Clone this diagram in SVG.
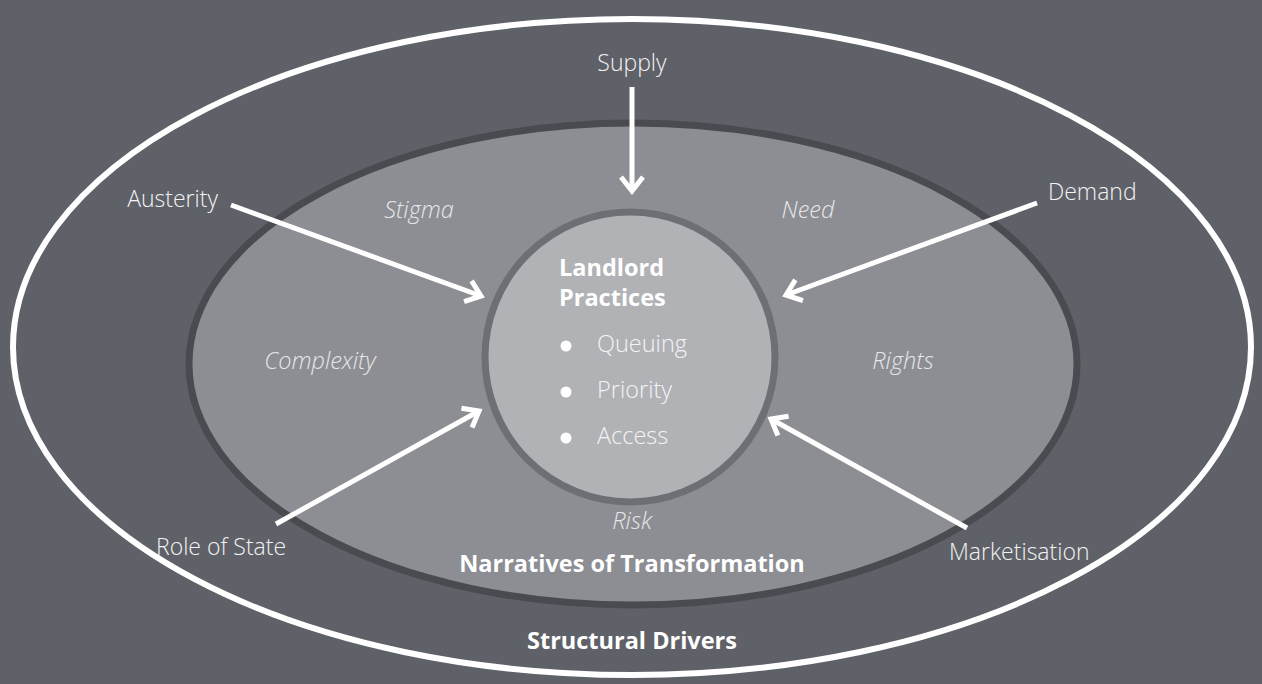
<svg xmlns="http://www.w3.org/2000/svg" width="1262" height="684" viewBox="0 0 1262 684">
<style>
.lbl{font-family:"Open Sans","Liberation Sans",sans-serif;font-weight:300;font-size:23px;fill:#f2f2f3}
.it{font-family:"Open Sans","Liberation Sans",sans-serif;font-weight:300;font-style:italic;font-size:23.5px;fill:#e6e7e9}
.bold{font-family:"Open Sans","Liberation Sans",sans-serif;font-weight:700;font-size:23.5px;fill:#ffffff}
.item{font-family:"Open Sans","Liberation Sans",sans-serif;font-weight:300;font-size:23.5px;fill:#f4f4f5}
.arrow{stroke:#ffffff;stroke-width:5;fill:none;marker-end:url(#head)}
</style>
<defs>
<marker id="head" markerUnits="userSpaceOnUse" viewBox="-20 -14 24 28" markerWidth="24" markerHeight="28" refX="0" refY="0" orient="auto">
<path d="M-14,-11 L0,0 L-14,11" fill="none" stroke="#ffffff" stroke-width="5"/>
</marker>
</defs>
<rect width="1262" height="684" fill="#5f6168"/>
<g id="structural-drivers">
<ellipse cx="632" cy="347" rx="619" ry="328" fill="none" stroke="#ffffff" stroke-width="6"/>
<text class="bold" x="632" y="649" text-anchor="middle">Structural Drivers</text>
</g>
<g id="narratives">
<ellipse cx="633" cy="364" rx="444" ry="241" fill="#8c8e93" stroke="#4a4b50" stroke-width="7"/>
<text class="bold" x="632" y="572" text-anchor="middle">Narratives of Transformation</text>
<text class="it" x="419" y="218" text-anchor="middle">Stigma</text>
<text class="it" x="808" y="218" text-anchor="middle">Need</text>
<text class="it" x="320" y="369" text-anchor="middle">Complexity</text>
<text class="it" x="903" y="369" text-anchor="middle">Rights</text>
<text class="it" x="632" y="529" text-anchor="middle">Risk</text>
</g>
<g id="landlord-practices">
<circle cx="630" cy="357" r="145" fill="#b1b2b6" stroke="#6e6f74" stroke-width="7"/>
<text class="bold" x="559" y="276">Landlord</text>
<text class="bold" x="559" y="306">Practices</text>
<circle cx="566" cy="346" r="5.5" fill="#ffffff"/>
<circle cx="566" cy="392" r="5.5" fill="#ffffff"/>
<circle cx="566" cy="438" r="5.5" fill="#ffffff"/>
<text class="item" x="597" y="352">Queuing</text>
<text class="item" x="597" y="398">Priority</text>
<text class="item" x="597" y="444">Access</text>
</g>
<g id="labels">
<text class="lbl" x="632" y="71" text-anchor="middle">Supply</text>
<text class="lbl" x="218" y="207" text-anchor="end">Austerity</text>
<text class="lbl" x="1048" y="200">Demand</text>
<text class="lbl" x="156" y="555">Role of State</text>
<text class="lbl" x="949" y="560">Marketisation</text>
</g>
<g id="connectors">
<line class="arrow" x1="632" y1="87" x2="632" y2="191"/>
<line class="arrow" x1="231" y1="205" x2="481" y2="296"/>
<line class="arrow" x1="1037" y1="203" x2="786" y2="295"/>
<line class="arrow" x1="276" y1="524" x2="479" y2="411"/>
<line class="arrow" x1="967" y1="528" x2="771" y2="419"/>
</g>
</svg>
